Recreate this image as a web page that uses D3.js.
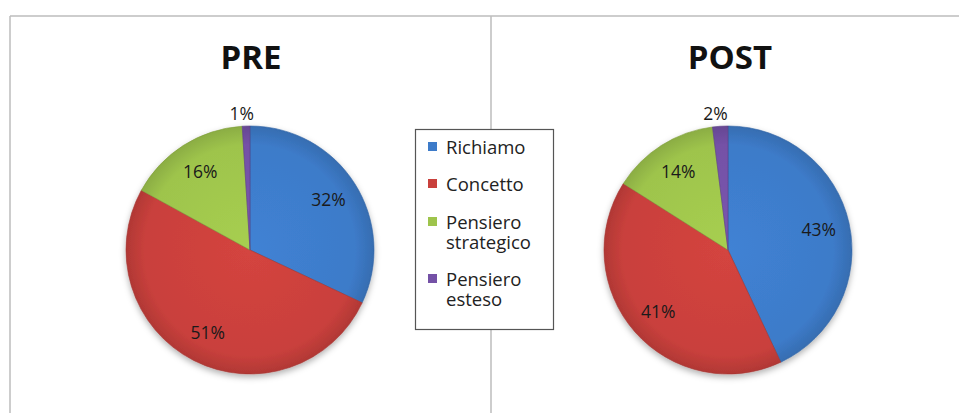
<!DOCTYPE html>
<html>
<head>
<meta charset="utf-8">
<script src="https://cdn.jsdelivr.net/npm/d3@7"></script>
<style>
  body { margin: 0; background: #fff; }
  svg { display: block; font-family: "Open Sans", "Noto Sans", sans-serif; }
</style>
</head>
<body>
<div id="chart"></div>
<script>
var categories = ["Richiamo", "Concetto", "Pensiero strategico", "Pensiero esteso"];
var preValues = [32, 51, 16, 1];
var postValues = [43, 41, 14, 2];
var titles = ["PRE", "POST"];
var colors = ["#3d7bc9", "#c9403c", "#9ec44c", "#7451a6"];

var svgWidth = 959, svgHeight = 413;

var svg = d3.select("#chart")
  .append("svg")
  .attr("width", svgWidth)
  .attr("height", svgHeight);

var defs = svg.append("defs");

// soft shadow under the pies
var shadow = defs.append("filter")
  .attr("id", "shadow")
  .attr("x", "-20%").attr("y", "-20%")
  .attr("width", "140%").attr("height", "140%");
shadow.append("feDropShadow")
  .attr("dx", 0).attr("dy", 3)
  .attr("stdDeviation", 3)
  .attr("flood-color", "#000")
  .attr("flood-opacity", 0.3);

// a little bit of shading on each color, like the office pies
colors.forEach(function(c, i) {
  var g = defs.append("radialGradient")
    .attr("id", "grad" + i)
    .attr("gradientUnits", "userSpaceOnUse")
    .attr("cx", 0).attr("cy", 0).attr("r", 124);
  g.append("stop").attr("offset", "0%").attr("stop-color", d3.color(c).brighter(0.15));
  g.append("stop").attr("offset", "85%").attr("stop-color", c);
  g.append("stop").attr("offset", "100%").attr("stop-color", d3.color(c).darker(0.35));
});

// frame lines
svg.append("line")
  .attr("x1", 10).attr("y1", 16).attr("x2", svgWidth).attr("y2", 16)
  .attr("stroke", "#bdbdbd").attr("stroke-width", 1.5);
svg.append("line")
  .attr("x1", 10).attr("y1", 16).attr("x2", 10).attr("y2", svgHeight)
  .attr("stroke", "#bdbdbd").attr("stroke-width", 1.5);
svg.append("line")
  .attr("x1", 491).attr("y1", 16).attr("x2", 491).attr("y2", svgHeight)
  .attr("stroke", "#bdbdbd").attr("stroke-width", 1.5);

var radius = 124;
var pie = d3.pie().sort(null).value(d => d);
var arc = d3.arc().innerRadius(0).outerRadius(radius);
var labelArc = d3.arc().innerRadius(radius * 0.75).outerRadius(radius * 0.75);

function drawPie(values, cx, cy, title, titleX) {
  svg.append("text")
    .attr("x", titleX)
    .attr("y", 69)
    .attr("text-anchor", "middle")
    .style("font-size", "33px")
    .style("font-weight", "bold")
    .attr("fill", "#111")
    .text(title);

  var g = svg.append("g")
    .attr("transform", `translate(${cx}, ${cy})`);

  var slices = g.append("g").attr("filter", "url(#shadow)");
  slices.selectAll("path")
    .data(pie(values))
    .enter()
    .append("path")
    .attr("d", arc)
    .attr("fill", (d, i) => "url(#grad" + i + ")")
    .attr("stroke", (d, i) => d3.color(colors[i]).darker(0.6))
    .attr("stroke-width", 0.6);

  g.selectAll("text.pct")
    .data(pie(values))
    .enter()
    .append("text")
    .attr("class", "pct")
    .attr("transform", function(d) {
      if (d.data < 5) {
        var a = (d.startAngle + d.endAngle) / 2;
        return `translate(${Math.sin(a) * (radius + 12) - 4}, ${-Math.cos(a) * (radius + 12)})`;
      }
      return `translate(${labelArc.centroid(d)})`;
    })
    .attr("text-anchor", "middle")
    .attr("dy", "0.35em")
    .style("font-size", "17.5px")
    .attr("fill", "#1a1a1a")
    .text(d => d.data + "%");
}

drawPie(preValues, 250, 250, titles[0], 251);
drawPie(postValues, 728, 250, titles[1], 730);

// legend
var legend = svg.append("g");
legend.append("rect")
  .attr("x", 415.5).attr("y", 129.5)
  .attr("width", 138).attr("height", 200)
  .attr("fill", "#fff")
  .attr("stroke", "#555")
  .attr("stroke-width", 1.2);

var legendRows = [
  { lines: ["Richiamo"], y: 154 },
  { lines: ["Concetto"], y: 191 },
  { lines: ["Pensiero", "strategico"], y: 229 },
  { lines: ["Pensiero", "esteso"], y: 286 }
];

legendRows.forEach(function(row, i) {
  legend.append("rect")
    .attr("x", 428).attr("y", row.y - 12)
    .attr("width", 9).attr("height", 9)
    .attr("fill", colors[i]);
  row.lines.forEach(function(line, j) {
    legend.append("text")
      .attr("x", 446)
      .attr("y", row.y + j * 20)
      .style("font-size", "18.5px")
      .attr("fill", "#222")
      .text(line);
  });
});
</script>
</body>
</html>
